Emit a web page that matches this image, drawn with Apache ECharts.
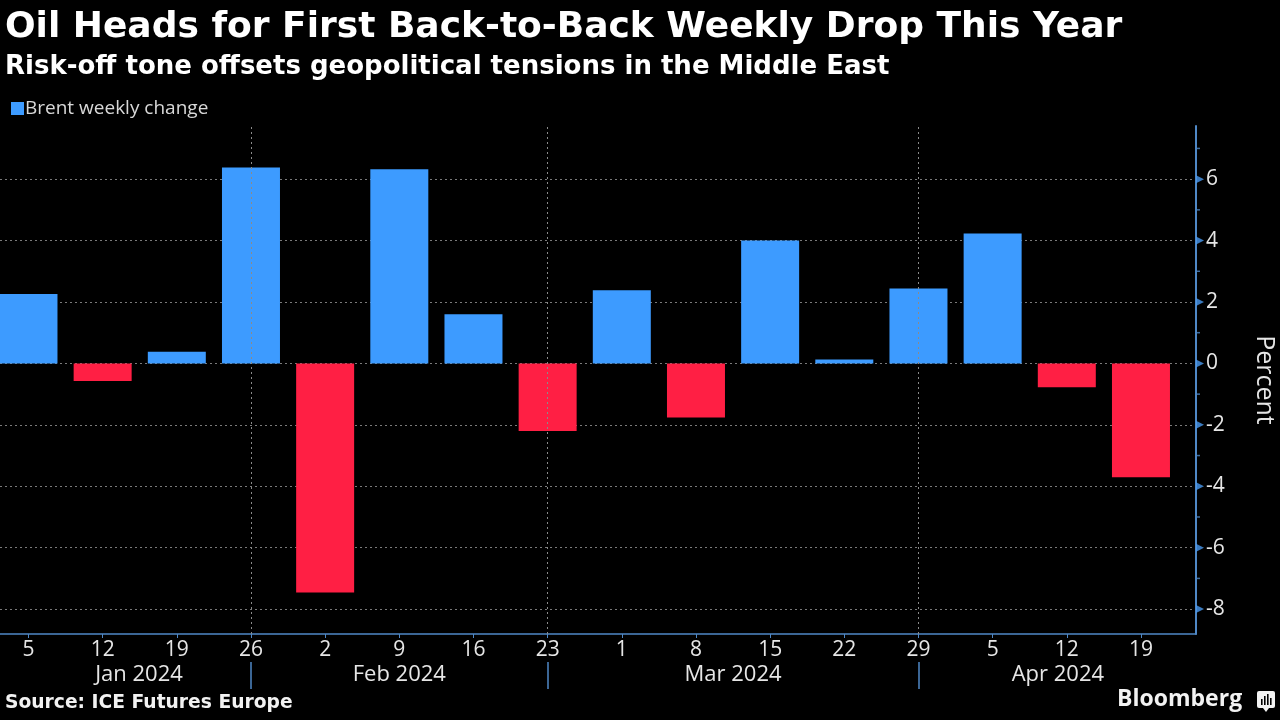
<!DOCTYPE html>
<html><head><meta charset="utf-8">
<script src="https://cdn.jsdelivr.net/npm/echarts@6/dist/echarts.min.js"></script>
<style>html,body{margin:0;padding:0;background:#000;}#c{width:1280px;height:720px;}</style>
</head><body><div id="c"></div>
<script>
var weekLabels = ['5','12','19','26','2','9','16','23','1','8','15','22','29','5','12','19'];
var weeklyChange = [2.26, -0.57, 0.38, 6.38, -7.46, 6.32, 1.6, -2.2, 2.38, -1.76, 4.0, 0.13, 2.44, 4.23, -0.78, -3.71];
var monthLabels = ['Jan 2024','Feb 2024','Mar 2024','Apr 2024'];
var monthLabelPos = [1.49, 5.0, 9.5, 13.88];
var monthBoundaryPos = [3, 7, 12];
var yTicks = [-8,-6,-4,-2,0,2,4,6];
var yMinorTicks = [-7,-5,-3,-1,1,3,5,7];

var BLUE = '#3d9bff', RED = '#ff1f44', AXIS = '#4f88c6';
var FONT = 'Open Sans';
var BOLD = 'DejaVu Sans';
var xMin = -0.384, xMax = 15.742, yMin = -8.81, yMax = 7.73;
var idx = weekLabels.map(function(_, i){ return i; });

var chart = echarts.init(document.getElementById('c'));
chart.setOption({
  backgroundColor: '#000',
  animation: false,
  title: [
    {text: 'Oil Heads for First Back-to-Back Weekly Drop This Year', left: 0, top: 5,
     textStyle: {color: '#fff', fontFamily: BOLD, fontWeight: 'bold', fontSize: 36}},
    {text: 'Risk-off tone offsets geopolitical tensions in the Middle East', left: 0, top: 49,
     textStyle: {color: '#fff', fontFamily: BOLD, fontWeight: 'bold', fontSize: 26}}
  ],
  legend: {left: 6, top: 94, icon: 'rect', itemWidth: 13, itemHeight: 13, itemGap: 4,
    textStyle: {color: '#d8d8d8', fontFamily: FONT, fontSize: 19, padding: [0,0,0,-4]},
    data: ['Brent weekly change']},
  grid: {left: 0, right: 84, top: 126, bottom: 86, outerBoundsMode: 'none', containLabel: false},
  xAxis: [
    {type: 'value', min: xMin, max: xMax, position: 'bottom',
     axisLine: {show: true, onZero: false, lineStyle: {color: AXIS, width: 1.5}},
     axisTick: {show: true, length: 4, customValues: idx, lineStyle: {color: AXIS}},
     axisLabel: {customValues: idx, color: '#e6e6e6', fontFamily: FONT, fontSize: 21, margin: 6,
       formatter: function(v){ return weekLabels[Math.round(v)]; }},
     splitLine: {show: false}},
    {type: 'value', min: xMin, max: xMax, position: 'bottom', offset: 28,
     axisLine: {show: false, onZero: false},
     axisTick: {show: true, length: 27, customValues: monthBoundaryPos, lineStyle: {color: AXIS, width: 1.5}},
     axisLabel: {customValues: monthLabelPos, color: '#e6e6e6', fontFamily: FONT, fontSize: 22, margin: 2,
       formatter: function(v){ var i = monthLabelPos.indexOf(v); return i >= 0 ? monthLabels[i] : ''; }},
     splitLine: {show: false}}
  ],
  yAxis: {type: 'value', position: 'right', min: yMin, max: yMax,
    name: 'Percent', nameLocation: 'middle', nameRotate: -90, nameGap: 56,
    nameTextStyle: {color: '#e6e6e6', fontFamily: FONT, fontSize: 25},
    axisLine: {show: true, onZero: false, lineStyle: {color: AXIS, width: 2}},
    axisTick: {show: false, customValues: yTicks},
    minorTick: {show: false},
    axisLabel: {customValues: yTicks, color: '#e6e6e6', fontFamily: FONT, fontSize: 21, margin: 10},
    splitLine: {show: true, customValues: yTicks, lineStyle: {color: '#7a7a7a', type: [2, 3], width: 1}}
  },
  series: [
    {name: 'Brent weekly change', type: 'bar', barWidth: 58, itemStyle: {color: BLUE},
     data: weeklyChange.map(function(v, i){ return {value: [i, v], itemStyle: {color: v < 0 ? RED : BLUE}}; }),
     markLine: {silent: true, symbol: 'none', label: {show: false},
       lineStyle: {color: '#8a8a8a', type: [2, 3], width: 1},
       data: monthBoundaryPos.map(function(p){ return {xAxis: p}; })}},
    {name: 'ticks', type: 'scatter', clip: false, symbol: 'triangle', symbolSize: [8, 8], symbolRotate: -90,
     symbolOffset: [4, 0], itemStyle: {color: '#4a9af0'}, silent: true,
     data: yTicks.map(function(v){ return [xMax, v]; })},
    {name: 'minor', type: 'scatter', clip: false, symbol: 'rect', symbolSize: [4, 1.5],
     symbolOffset: [2, 0], itemStyle: {color: AXIS}, silent: true,
     data: yMinorTicks.map(function(v){ return [xMax, v]; })}
  ],
  graphic: [
    {type: 'text', left: 5, top: 694, style: {text: 'Source: ICE Futures Europe', fill: '#f2f2f2',
      font: 'bold 18.7px "DejaVu Sans"'}},
    {type: 'text', left: 1117, top: 688, style: {text: 'Bloomberg', fill: '#f2f2f2',
      font: 'bold 23px "Open Sans"'}},
    {type: 'group', left: 1257, top: 691, children: [
      {type: 'rect', shape: {x: 0, y: 0, width: 18, height: 17, r: 2}, style: {fill: '#f2f2f2'}},
      {type: 'polygon', shape: {points: [[6,17],[9,21],[12,17]]}, style: {fill: '#f2f2f2'}},
      {type: 'rect', shape: {x: 4, y: 8, width: 1.6, height: 6}, style: {fill: '#000'}},
      {type: 'rect', shape: {x: 7, y: 5, width: 1.6, height: 9}, style: {fill: '#000'}},
      {type: 'rect', shape: {x: 10, y: 3, width: 1.6, height: 11}, style: {fill: '#000'}},
      {type: 'rect', shape: {x: 13, y: 7, width: 1.6, height: 7}, style: {fill: '#000'}}
    ]}
  ]
});
</script></body></html>
